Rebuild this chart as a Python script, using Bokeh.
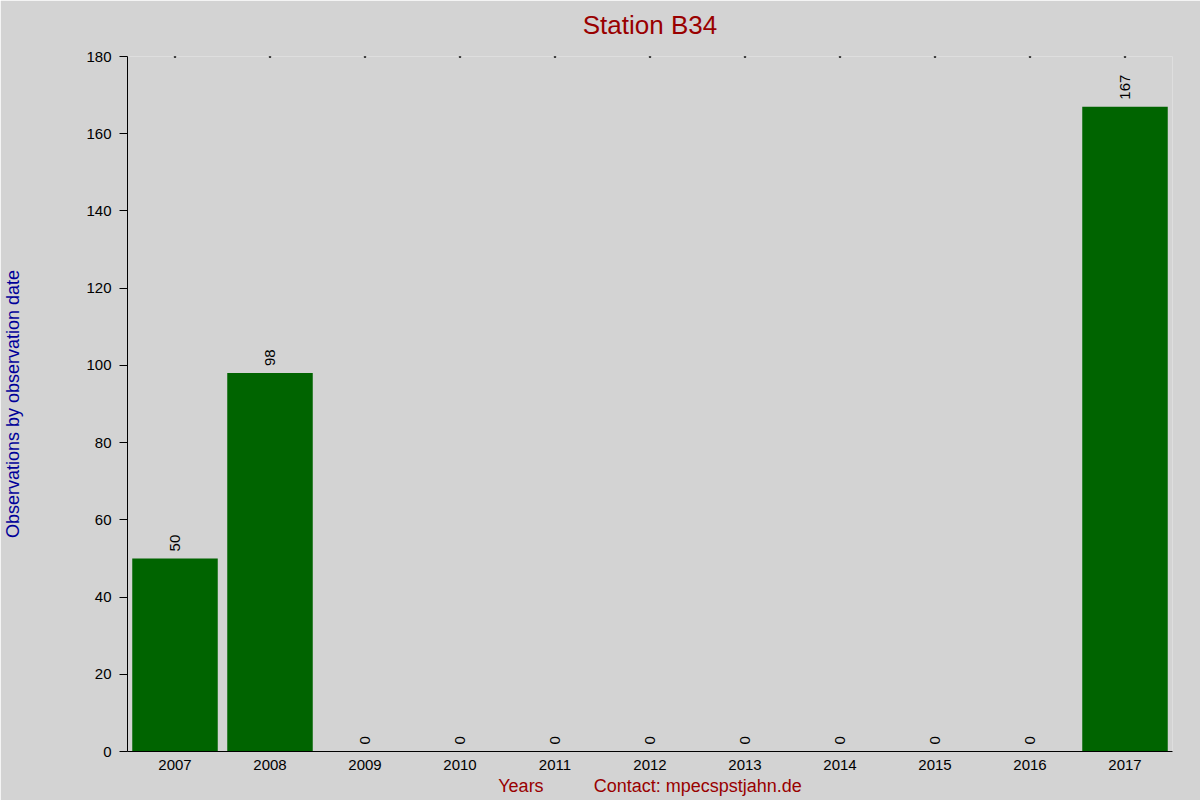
import math
from bokeh.plotting import figure
from bokeh.models import ColumnDataSource, Range1d, FixedTicker, LinearAxis
from bokeh.core.properties import value
from bokeh.embed import file_html
from bokeh.resources import INLINE

years = ["2007", "2008", "2009", "2010", "2011", "2012", "2013", "2014", "2015", "2016", "2017"]
counts = [50, 98, 0, 0, 0, 0, 0, 0, 0, 0, 167]
y_ticks = [0, 20, 40, 60, 80, 100, 120, 140, 160, 180]
title_text = "Station B34"
y_label_text = "Observations by observation date"
x_label_text = "Years"
contact_text = "Contact: mpecspstjahn.de"

FONT = "Liberation Sans"
BG = "#D3D3D3"
NBSP = "\u00a0"

source = ColumnDataSource(dict(x=years, top=counts, label=[str(c) for c in counts],
                               ytop=[max(y_ticks)] * len(years)))

p = figure(width=1200, height=800, x_range=years, y_range=Range1d(0, 180),
           output_backend="svg", toolbar_location=None,
           min_border_left=126, min_border_right=28, min_border_top=56, min_border_bottom=49)
p.background_fill_color = BG
p.border_fill_color = BG
p.outline_line_color = None
p.xgrid.grid_line_color = None
p.ygrid.grid_line_color = None
p.title.text = ""
p.title.standoff = 0
p.title.visible = False

# title drawn as the label of an otherwise empty axis above the frame
top_axis = LinearAxis(ticker=FixedTicker(ticks=[]), axis_label=title_text)
top_axis.axis_line_color = None
top_axis.major_tick_line_color = None
top_axis.minor_tick_line_color = None
top_axis.major_label_standoff = 0
top_axis.axis_label_text_font = FONT
top_axis.axis_label_text_font_size = "26px"
top_axis.axis_label_text_font_style = "normal"
top_axis.axis_label_text_color = "#990000"
top_axis.axis_label_standoff = 17
p.add_layout(top_axis, "above")

p.vbar(x="x", top="top", width=0.9, source=source, fill_color="#006400", line_color=None)
p.scatter(x="x", y="ytop", source=source, marker="square", size=1.5, color="black")
p.text(x="x", y="top", text="label", source=source, angle=math.pi / 2,
       text_align="left", text_baseline="middle", y_offset=-7,
       text_font=value(FONT), text_font_size="15px", text_color="black")

p.yaxis.ticker = FixedTicker(ticks=y_ticks)
p.yaxis.major_tick_out = 8
p.yaxis.major_tick_in = 0
p.yaxis.minor_tick_line_color = None
p.yaxis.major_label_standoff = 8
p.yaxis.axis_line_color = "black"
p.yaxis.major_tick_line_color = "black"
p.yaxis.major_label_text_font = FONT
p.yaxis.major_label_text_font_size = "15px"
p.yaxis.major_label_text_color = "black"
p.yaxis.axis_label = y_label_text
p.yaxis.axis_label_text_font = FONT
p.yaxis.axis_label_text_font_size = "18px"
p.yaxis.axis_label_text_font_style = "normal"
p.yaxis.axis_label_text_color = "#000099"
p.yaxis.axis_label_standoff = 60

bottom_axis = p.below[0]
bottom_axis.major_tick_line_color = None
bottom_axis.minor_tick_line_color = None
bottom_axis.major_label_standoff = 2
bottom_axis.axis_line_color = "black"
bottom_axis.major_label_text_font = FONT
bottom_axis.major_label_text_font_size = "15px"
bottom_axis.major_label_text_color = "black"
bottom_axis.axis_label = x_label_text + NBSP * 10 + contact_text
bottom_axis.axis_label_text_font = FONT
bottom_axis.axis_label_text_font_size = "18px"
bottom_axis.axis_label_text_font_style = "normal"
bottom_axis.axis_label_text_color = "#990000"
bottom_axis.axis_label_standoff = 3

open("out.html", "w").write(file_html(p, INLINE))
